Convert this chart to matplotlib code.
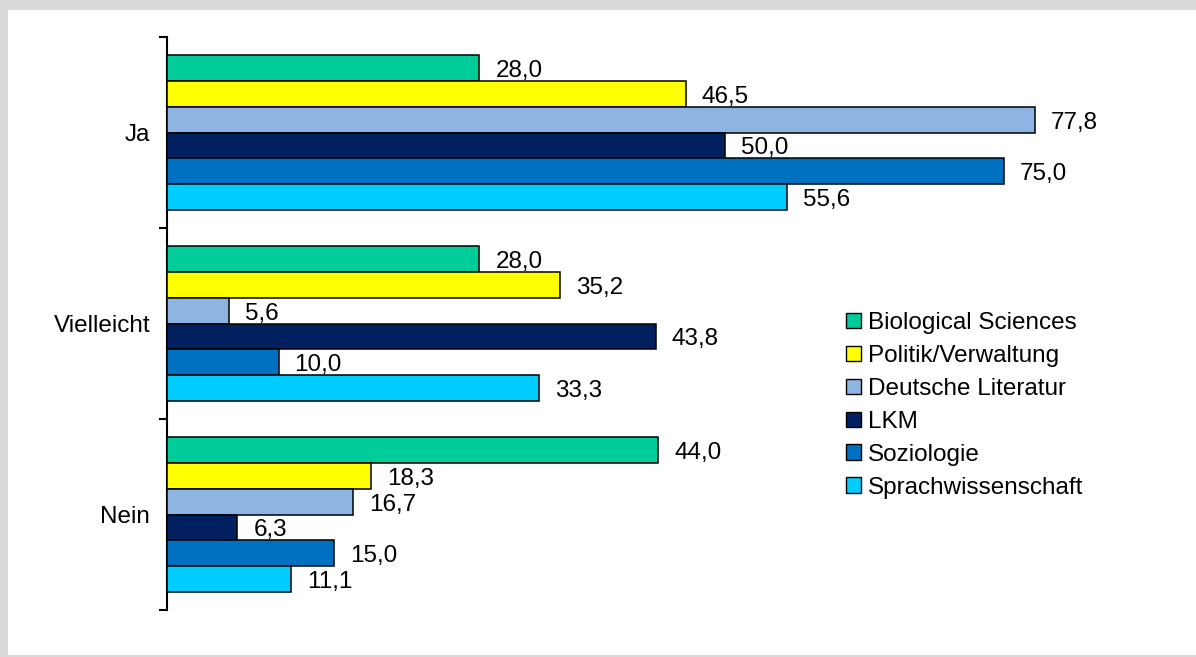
import matplotlib
matplotlib.use("Agg")
import matplotlib.pyplot as plt
from matplotlib.patches import Rectangle, Patch

plt.rcParams['font.family'] = ['Liberation Sans', 'DejaVu Sans']

categories = ["Ja", "Vielleicht", "Nein"]
series_names = ["Biological Sciences", "Politik/Verwaltung", "Deutsche Literatur",
                "LKM", "Soziologie", "Sprachwissenschaft"]
bio = [28.0, 28.0, 44.0]
politik = [46.5, 35.2, 18.3]
deutsch = [77.8, 5.6, 16.7]
lkm = [50.0, 43.8, 6.3]
sozio = [75.0, 10.0, 15.0]
sprach = [55.6, 33.3, 11.1]
colors = ["#00CC99", "#FFFF00", "#8EB4E3", "#002060", "#0070C0", "#00CCFF"]

series = [bio, politik, deutsch, lkm, sozio, sprach]

W, H = 1196, 657
fig = plt.figure(figsize=(W / 100, H / 100), dpi=100)
fig.patch.set_facecolor("#D9D9D9")
fig.patches.append(Rectangle((8 / W, 1 - 655 / H), (W - 8) / W, (655 - 10) / H,
                             transform=fig.transFigure, facecolor="white",
                             edgecolor="none", zorder=-10))

ax = fig.add_axes([167 / W, 47 / H, 1000 / W, 573 / H])
ax.set_facecolor("none")

FS = 17.5
h = 0.1345
ntot = len(series)
for i, (vals, col, name) in enumerate(zip(series, colors, series_names)):
    ys = [c - ntot * h / 2 + (i + 0.5) * h for c in range(len(categories))]
    ax.barh(ys, vals, height=h, color=col, edgecolor="black", linewidth=1.1,
            label=name, zorder=3)
    for y, v in zip(ys, vals):
        ax.annotate(f"{v:.1f}".replace(".", ","), (v, y), xytext=(16, -3),
                    textcoords="offset pixels", va="center", ha="left",
                    fontsize=FS, color="black")

ax.set_xlim(0, 1000 / 11.16)
ax.set_ylim(2.5, -0.5)
for s in ["top", "right", "bottom"]:
    ax.spines[s].set_visible(False)
ax.spines["left"].set_linewidth(1.5)
ax.set_xticks([])
ax.set_yticks(range(len(categories)))
ax.set_yticklabels(categories, fontsize=FS)
ax.tick_params(axis="y", which="major", length=0, pad=12)
ax.set_yticks([-0.5, 0.5, 1.5, 2.5], minor=True)
ax.tick_params(axis="y", which="minor", length=6, width=1.5, direction="out")

handles = [Patch(facecolor=c, edgecolor="black", linewidth=1.0) for c in colors]
fig.legend(handles, series_names, loc="upper left",
           bbox_to_anchor=(846 / W, 1 - 312 / H), frameon=False, fontsize=FS,
           handlelength=0.6, handleheight=0.6, handletextpad=0.3,
           labelspacing=0.45, borderpad=0, borderaxespad=0)

fig.savefig("out.png", dpi=100, facecolor=fig.get_facecolor())
